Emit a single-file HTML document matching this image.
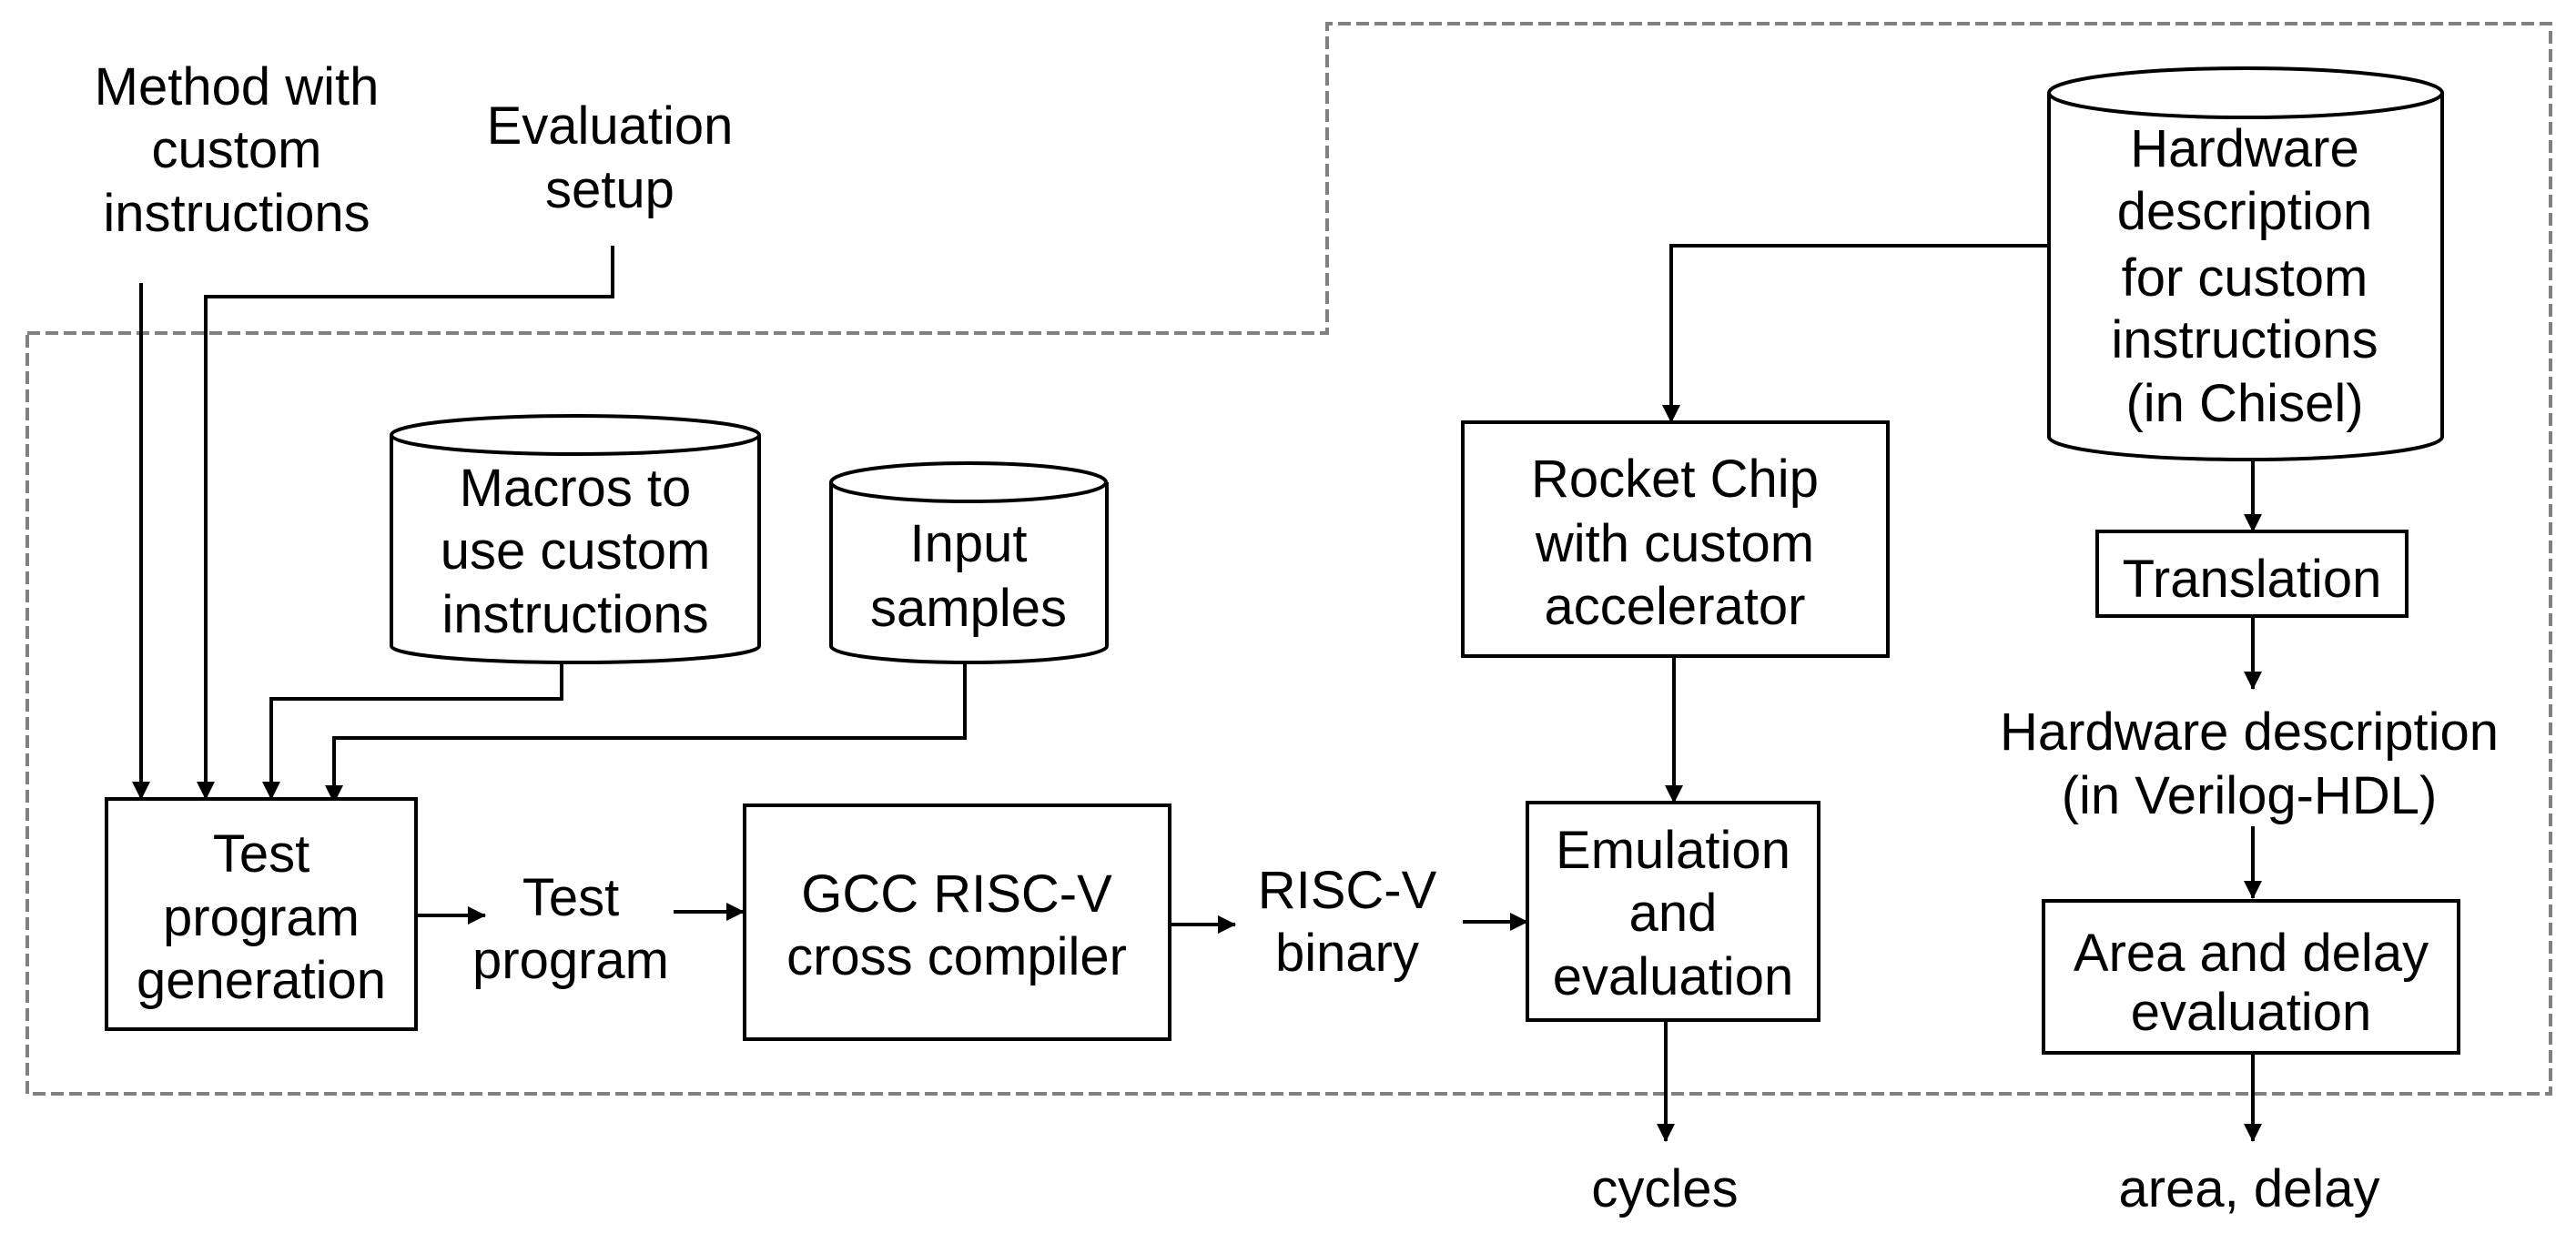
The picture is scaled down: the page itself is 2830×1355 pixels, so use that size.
<!DOCTYPE html>
<html><head><meta charset="utf-8"><style>
html,body{margin:0;padding:0;background:#fff;}
svg{display:block;}
text{font-family:"Liberation Sans",Arial,sans-serif;font-size:58px;fill:#000;text-anchor:middle;}
</style></head><body>
<svg width="2830" height="1355" viewBox="0 0 2830 1355" xmlns="http://www.w3.org/2000/svg">
<defs>
<marker id="a" markerWidth="20" markerHeight="20" refX="19" refY="10" orient="auto" markerUnits="userSpaceOnUse">
<path d="M0,0 L20,10 L0,20 Z" fill="#000"/>
</marker>
</defs>
<rect width="2830" height="1355" fill="#fff"/>
<path d="M30,366 L1458,366 L1458,26 L2802,26 L2802,1202 L30,1202 Z" fill="none" stroke="#808080" stroke-width="4" stroke-dasharray="14,6"/>

<g fill="none" stroke="#000" stroke-width="4">
<path d="M155,311 L155,878" marker-end="url(#a)"/>
<path d="M673,270 L673,326 L226,326 L226,878" marker-end="url(#a)"/>
<path d="M617,728 L617,768 L298,768 L298,878" marker-end="url(#a)"/>
<path d="M1060,728 L1060,811 L367,811 L367,882" marker-end="url(#a)"/>
<path d="M457,1006 L533,1006" marker-end="url(#a)"/>
<path d="M740,1002 L817,1002" marker-end="url(#a)"/>
<path d="M1285,1016 L1357,1016" marker-end="url(#a)"/>
<path d="M1607,1013 L1678,1013" marker-end="url(#a)"/>
<path d="M2252,270 L1836,270 L1836,464" marker-end="url(#a)"/>
<path d="M1839,721 L1839,882" marker-end="url(#a)"/>
<path d="M1830,1121 L1830,1254" marker-end="url(#a)"/>
<path d="M2475,506 L2475,584" marker-end="url(#a)"/>
<path d="M2475,677 L2475,757" marker-end="url(#a)"/>
<path d="M2475,908 L2475,987" marker-end="url(#a)"/>
<path d="M2475,1157 L2475,1254" marker-end="url(#a)"/>
</g>

<g fill="#fff" stroke="#000" stroke-width="4">
<rect x="117" y="878" width="340" height="253"/>
<rect x="818" y="885" width="467" height="257"/>
<rect x="1607" y="464" width="467" height="257"/>
<rect x="1678" y="882" width="320" height="239"/>
<rect x="2304" y="584" width="340" height="93"/>
<rect x="2245" y="990" width="456" height="167"/>
</g>
<g fill="#fff" stroke="#000" stroke-width="4">
<path d="M430,478 L430,710 A202,18 0 0 0 834,710 L834,478"/>
<ellipse cx="632" cy="478" rx="202" ry="21"/>
<path d="M913,530 L913,710 A151,18 0 0 0 1216,710 L1216,530"/>
<ellipse cx="1064" cy="530" rx="151" ry="21"/>
<path d="M2251,102 L2251,480 A216,25 0 0 0 2683,480 L2683,102"/>
<ellipse cx="2467" cy="102" rx="216" ry="27"/>
</g>

<text x="260" y="115">Method with</text>
<text x="260" y="184">custom</text>
<text x="260" y="254">instructions</text>
<text x="670" y="158">Evaluation</text>
<text x="670" y="228">setup</text>
<text x="632" y="556">Macros to</text>
<text x="632" y="625">use custom</text>
<text x="632" y="695">instructions</text>
<text x="1064" y="617">Input</text>
<text x="1064" y="688">samples</text>
<text x="287" y="958">Test</text>
<text x="287" y="1028">program</text>
<text x="287" y="1097">generation</text>
<text x="627" y="1006">Test</text>
<text x="627" y="1075">program</text>
<text x="1051" y="1002">GCC RISC-V</text>
<text x="1051" y="1071">cross compiler</text>
<text x="1480" y="998">RISC-V</text>
<text x="1480" y="1067">binary</text>
<text x="1838" y="954">Emulation</text>
<text x="1838" y="1023">and</text>
<text x="1838" y="1093">evaluation</text>
<text x="1840" y="546">Rocket Chip</text>
<text x="1840" y="617">with custom</text>
<text x="1840" y="686">accelerator</text>
<text x="2466" y="183">Hardware</text>
<text x="2466" y="252">description</text>
<text x="2466" y="325">for custom</text>
<text x="2466" y="393">instructions</text>
<text x="2466" y="463">(in Chisel)</text>
<text x="2474" y="656">Translation</text>
<text x="2471" y="824">Hardware description</text>
<text x="2471" y="894">(in Verilog-HDL)</text>
<text x="2473" y="1067">Area and delay</text>
<text x="2473" y="1132">evaluation</text>
<text x="1829" y="1326">cycles</text>
<text x="2471" y="1326">area, delay</text>
</svg>
</body></html>
